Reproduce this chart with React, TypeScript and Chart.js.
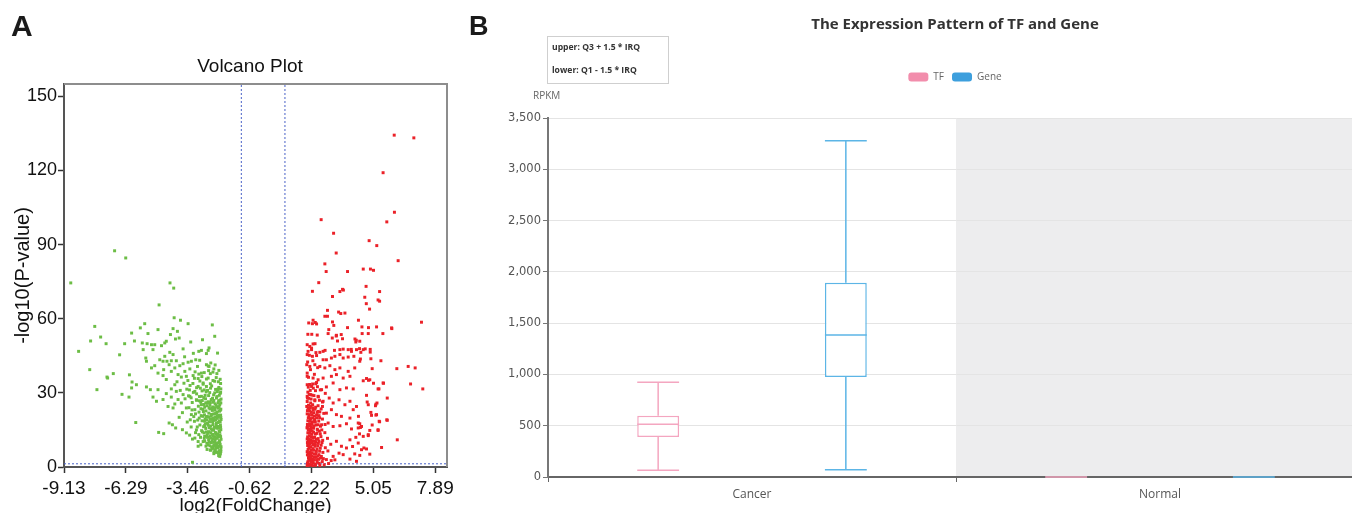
import React, { useEffect, useRef } from 'react';
import { Chart, registerables } from 'chart.js';

Chart.register(...registerables);

// ---------------- Panel A: volcano plot ----------------
const volcanoTitle = 'Volcano Plot';
const fcAxisTitle = 'log2(FoldChange)';
const pAxisTitle = '-log10(P-value)';
const fcTicks = [-9.13, -6.29, -3.46, -0.62, 2.22, 5.05, 7.89];
const pTicks = [0, 30, 60, 90, 120, 150];
const fcRange = [-9.13, 8.43];
const pRange = [0, 155];
const fcThresholds = [-1, 1];
const pThreshold = 1.3;

// down-regulated (green)
const downPoints: [number, number][] = [
  [-8.82, 74.5], [-6.81, 87.5], [-6.30, 84.6], [-4.27, 74.5], [-4.10, 72.4], [-8.46, 46.8], [-7.95, 39.4],
  [-7.72, 56.9], [-7.91, 51.0], [-7.45, 52.6], [-7.20, 49.9], [-7.62, 31.3], [-7.16, 36.4], [-7.13, 36.0],
  [-6.87, 37.8], [-6.47, 29.4], [-6.58, 45.4], [-6.35, 49.9], [-6.13, 37.3], [-6.01, 34.4], [-6.03, 32.0],
  [-5.81, 33.3], [-6.15, 28.3], [-5.84, 18.0], [-6.03, 54.2], [-5.90, 51.0],
  [-4.77, 65.6], [-4.08, 60.4], [-3.79, 59.4], [-3.44, 58.0], [-2.33, 57.5], [-2.22, 52.9], [-5.43, 58.0],
  [-5.63, 56.3], [-5.28, 54.0], [-4.82, 55.6], [-4.13, 56.0], [-3.93, 54.9], [-4.25, 53.6], [-4.02, 51.8],
  [-3.85, 52.2], [-4.44, 50.9], [-4.51, 50.2], [-4.66, 49.1], [-4.97, 49.5], [-5.12, 49.5], [-5.32, 49.9],
  [-5.54, 50.2], [-5.50, 47.5], [-5.05, 47.5], [-3.67, 47.8], [-3.32, 50.6], [-2.78, 51.5], [-2.83, 47.2],
  [-2.52, 47.2], [-2.48, 48.2], [-2.60, 45.9], [-2.09, 46.1], [-5.38, 44.1], [-5.35, 42.8], [-5.12, 40.1],
  [-4.97, 41.0], [-4.74, 43.4], [-4.51, 44.8], [-4.28, 46.4], [-4.13, 45.5], [-4.59, 42.8], [-4.41, 42.8],
  [-4.21, 43.0], [-3.98, 43.0], [-4.31, 41.4], [-4.56, 39.4], [-4.82, 38.0], [-4.59, 37.0], [-4.44, 35.4],
  [-4.21, 38.7], [-4.05, 40.1], [-3.82, 41.0], [-3.67, 41.8], [-3.44, 42.4], [-3.29, 42.8], [-3.09, 43.4],
  [-2.91, 43.2], [-3.01, 40.7], [-2.60, 41.4], [-2.48, 40.7], [-2.26, 39.7], [-3.36, 39.7], [-3.59, 38.7],
  [-3.90, 37.4], [-3.75, 36.4], [-3.52, 36.7], [-3.21, 37.0], [-2.83, 38.0], [-2.52, 36.0], [-2.22, 34.7],
  [-2.06, 31.6], [-5.35, 32.4], [-5.17, 31.3], [-4.82, 31.3], [-5.05, 28.3], [-4.89, 26.6], [-4.59, 27.3],
  [-4.44, 29.7], [-4.21, 31.6], [-4.05, 33.3], [-3.98, 30.6], [-4.21, 28.3], [-4.36, 24.5], [-4.13, 23.9],
  [-3.90, 27.3], [-3.67, 29.3], [-3.75, 25.9], [-3.52, 23.9], [-3.36, 28.6], [-3.13, 30.6], [-2.98, 32.6],
  [-2.75, 34.0], [-2.60, 32.6], [-2.42, 33.7], [-3.29, 21.2], [-3.13, 23.2], [-2.83, 25.2], [-3.06, 27.2],
  [-2.83, 28.6], [-4.16, 17.1], [-4.01, 15.8], [-4.31, 17.8], [-3.70, 15.1], [-4.56, 13.5], [-4.79, 14.0],
  [-3.52, 13.8], [-3.13, 11.7], [-3.24, 11.3], [-2.86, 9.0], [-2.75, 10.3], [-2.52, 9.0], [-2.42, 6.8],
  [-2.26, 5.4], [-1.99, 4.3], [-2.05, 5.6], [-1.94, 6.3], [-2.98, 8.4], [-2.68, 12.4], [-3.24, 1.9],
  [-1.94, 31.6], [-1.97, 29.8], [-2.03, 32.2], [-2.10, 30.5], [-2.18, 31.4], [-2.27, 29.2], [-2.36, 32.8],
  [-2.45, 30.1], [-2.55, 31.0], [-2.66, 29.0], [-2.80, 30.8], [-2.92, 28.5],
  [-1.93, 27.5], [-1.99, 25.2], [-2.04, 26.8], [-2.09, 24.4], [-2.14, 27.9], [-2.20, 25.6], [-2.26, 26.9],
  [-2.31, 24.3], [-2.38, 27.3], [-2.44, 25.0], [-2.51, 26.4], [-2.58, 24.8], [-2.64, 27.6], [-2.72, 25.3],
  [-2.86, 26.2], [-2.97, 24.6], [-3.05, 27.0],
  [-1.94, 23.4], [-1.95, 21.0], [-2.00, 22.6], [-2.05, 20.3], [-2.08, 23.8], [-2.13, 21.7], [-2.18, 20.1],
  [-2.22, 23.0], [-2.28, 21.4], [-2.33, 22.9], [-2.39, 20.6], [-2.44, 23.5], [-2.49, 21.8], [-2.56, 20.4],
  [-2.62, 22.7], [-2.69, 21.1], [-2.76, 23.3], [-2.84, 20.8], [-2.94, 22.2], [-3.10, 21.5],
  [-1.93, 19.2], [-1.96, 17.0], [-2.01, 18.6], [-2.06, 16.4], [-2.10, 19.7], [-2.15, 17.6], [-2.20, 16.2],
  [-2.24, 18.9], [-2.30, 17.2], [-2.35, 19.5], [-2.41, 16.6], [-2.46, 18.3], [-2.52, 16.9], [-2.58, 19.1],
  [-2.65, 17.5], [-2.73, 16.3], [-2.80, 18.7], [-2.90, 17.0], [-3.00, 19.0],
  [-1.94, 15.1], [-1.98, 13.0], [-2.02, 14.6], [-2.07, 12.3], [-2.12, 15.7], [-2.17, 13.5], [-2.22, 12.1],
  [-2.27, 14.9], [-2.32, 13.2], [-2.38, 15.4], [-2.43, 12.6], [-2.50, 14.3], [-2.57, 12.9], [-2.63, 15.6],
  [-2.71, 13.8], [-2.82, 14.7], [-2.95, 13.1],
  [-1.93, 11.2], [-1.97, 9.1], [-2.01, 10.6], [-2.05, 8.4], [-2.10, 11.6], [-2.15, 9.5], [-2.20, 10.9],
  [-2.26, 8.8], [-2.31, 11.3], [-2.37, 9.9], [-2.44, 8.6], [-2.50, 11.0], [-2.58, 9.6], [-2.68, 10.5],
  [-1.94, 7.2], [-1.96, 5.3], [-2.00, 6.6], [-2.04, 4.6], [-2.09, 7.7], [-2.14, 5.9], [-2.19, 7.0],
  [-2.25, 6.2], [-2.32, 7.5], [-2.40, 6.9],
  [-2.05, 34.5], [-2.15, 36.2], [-2.30, 35.0], [-2.42, 37.8], [-2.60, 35.6], [-2.75, 33.5], [-2.90, 34.8],
  [-3.05, 32.1], [-3.20, 30.2], [-3.35, 33.0], [-3.15, 35.9], [-2.50, 39.0], [-2.70, 38.2], [-2.95, 37.6],
  [-3.25, 26.1], [-3.40, 24.0], [-3.15, 18.5], [-3.30, 16.2],
  [-1.95, 30.2], [-1.98, 27.0], [-2.01, 29.0], [-2.07, 31.3], [-2.12, 28.5], [-2.22, 30.0], [-2.32, 27.8],
  [-2.41, 31.9], [-2.50, 28.9], [-2.61, 30.4], [-2.72, 28.1],
  [-1.94, 25.9], [-1.96, 23.0], [-2.02, 24.2], [-2.06, 26.0], [-2.11, 22.3], [-2.16, 25.0], [-2.23, 24.0],
  [-2.29, 26.2], [-2.35, 23.8], [-2.42, 26.1], [-2.48, 24.0], [-2.55, 25.9], [-2.68, 24.2], [-2.79, 26.9],
  [-1.94, 20.0], [-1.97, 18.3], [-2.02, 20.9], [-2.07, 18.0], [-2.12, 20.6], [-2.17, 19.0], [-2.21, 21.6],
  [-2.27, 19.9], [-2.32, 18.4], [-2.37, 21.3], [-2.43, 19.3], [-2.49, 20.2], [-2.55, 17.8], [-2.61, 20.4],
  [-2.69, 18.6], [-2.77, 20.5],
  [-1.95, 16.1], [-1.99, 14.2], [-2.04, 15.8], [-2.09, 13.4], [-2.14, 16.5], [-2.19, 14.0], [-2.24, 16.0],
  [-2.29, 12.8], [-2.34, 15.0], [-2.40, 13.9], [-2.47, 15.9], [-2.54, 13.7], [-2.61, 14.2], [-2.68, 16.8],
  [-1.95, 12.3], [-1.99, 10.2], [-2.03, 12.5], [-2.08, 9.8], [-2.13, 12.9], [-2.18, 11.8], [-2.23, 10.0],
  [-2.29, 12.4], [-2.34, 10.5], [-2.41, 11.7], [-2.47, 10.0], [-2.55, 12.0],
  [-1.93, 8.2], [-1.98, 6.0], [-2.02, 8.4], [-2.07, 6.1], [-2.12, 8.9], [-2.17, 7.9], [-2.22, 9.0],
  [-2.29, 8.2], [-2.36, 8.1],
  [-3.45, 35.0], [-3.38, 31.2], [-3.30, 28.0], [-3.22, 33.8], [-3.12, 38.5], [-3.05, 29.6], [-2.98, 35.8],
  [-2.92, 26.8], [-2.88, 31.9], [-2.81, 36.6], [-2.74, 22.4], [-2.70, 31.2], [-2.66, 19.4], [-2.63, 26.0],
  [-2.85, 23.6], [-2.93, 19.8], [-3.02, 16.2], [-3.10, 13.9], [-3.18, 20.4], [-3.26, 23.1], [-3.34, 19.1],
  [-3.42, 28.8], [-3.50, 31.5], [-3.58, 27.6], [-3.63, 33.9], [-3.70, 22.0], [-3.48, 18.2], [-3.37, 12.9],
  [-2.87, 12.0], [-2.78, 14.2], [-2.70, 11.6], [-2.62, 8.4], [-2.98, 10.3], [-3.06, 15.0], [-2.57, 7.1],
  [-2.52, 40.9], [-2.40, 42.1], [-2.30, 38.4], [-2.20, 41.3], [-2.12, 37.8], [-2.03, 39.1], [-1.97, 35.5],
  [-1.95, 33.8], [-3.80, 31.0], [-3.85, 20.1], [-3.95, 34.5], [-4.05, 25.5], [-3.60, 44.6], [-3.20, 46.0],
  [-2.95, 46.8],
];

// up-regulated (red)
const upPoints: [number, number][] = [
  [6.01, 134.3], [6.91, 133.2], [5.50, 119.1], [6.02, 103.1], [5.67, 99.2], [2.66, 100.1], [3.23, 94.6],
  [4.86, 91.6], [5.21, 89.6], [6.19, 83.5], [3.35, 86.6], [2.83, 82.2], [2.89, 79.1], [3.87, 79.1],
  [4.59, 80.1], [4.92, 80.1], [5.06, 79.6], [2.55, 74.6], [4.72, 73.1], [2.26, 71.1], [3.64, 71.9],
  [3.68, 71.6], [3.52, 71.0], [5.34, 71.0], [3.18, 69.0], [4.66, 68.7], [5.27, 67.6], [5.34, 67.1],
  [7.26, 58.6], [6.97, 40.1], [6.76, 33.6], [7.32, 31.6],
  [4.73, 66.1], [4.88, 63.9], [2.95, 63.4], [3.46, 62.7], [3.56, 62.1], [3.75, 62.3], [2.83, 61.0],
  [2.95, 61.0], [2.29, 59.4], [2.39, 58.5], [2.45, 57.9], [2.26, 58.0], [2.09, 58.3], [3.18, 58.7],
  [3.24, 57.3], [4.37, 59.4], [4.53, 56.7], [3.87, 56.4], [5.20, 56.7], [5.90, 56.0], [5.49, 54.0],
  [4.82, 54.0], [4.54, 54.0], [2.05, 53.7], [2.23, 53.7], [2.48, 53.4], [2.98, 54.0], [3.36, 53.3],
  [3.58, 53.6], [3.17, 52.2], [3.64, 51.9], [4.21, 51.8], [3.41, 51.0], [4.68, 47.8], [4.25, 50.6],
  [4.43, 50.9], [4.91, 47.6],
  [2.02, 49.5], [2.29, 49.8], [2.14, 48.8], [2.38, 49.9], [2.06, 46.8], [2.22, 47.5], [2.60, 46.4],
  [2.75, 46.8], [2.84, 47.2], [3.27, 47.2], [3.52, 47.5], [3.67, 47.7], [3.90, 47.5], [4.05, 46.8],
  [4.28, 47.5], [4.48, 46.4], [4.59, 47.5],
  [2.02, 45.5], [2.26, 44.8], [2.45, 45.1], [2.75, 43.4], [2.90, 43.4], [3.13, 44.1], [3.29, 44.8],
  [3.52, 45.5], [3.67, 44.1], [3.90, 44.5], [4.16, 44.8], [4.43, 42.8], [4.94, 43.8], [5.40, 43.0],
  [2.00, 41.4], [2.14, 40.7], [2.37, 41.4], [2.60, 40.7], [2.83, 40.1], [3.06, 41.0], [3.29, 39.4],
  [3.52, 40.1], [3.90, 38.7], [4.20, 40.1], [5.00, 39.8], [6.13, 39.8], [6.65, 40.7],
  [2.02, 36.7], [2.29, 36.0], [2.52, 35.3], [2.75, 36.0], [3.13, 36.7], [3.36, 37.4], [3.67, 36.0],
  [3.98, 36.7], [4.59, 34.9], [4.89, 35.3], [5.50, 34.0], [4.74, 35.8],
  [2.02, 33.3], [2.22, 32.6], [2.41, 33.7], [2.68, 31.3], [2.90, 32.4], [3.21, 34.0], [3.52, 31.3],
  [3.82, 32.0], [4.13, 31.6], [5.31, 31.6], [4.74, 29.0], [5.69, 27.9], [2.02, 28.6], [2.17, 29.3],
  [2.37, 27.2], [2.52, 28.6], [2.75, 26.6], [3.03, 27.9], [3.21, 25.9], [3.48, 27.2], [3.75, 25.2],
  [3.98, 26.6], [4.28, 24.5], [4.82, 25.2], [5.15, 24.8], [5.22, 25.9], [4.13, 23.2], [2.00, 24.5],
  [2.11, 23.2], [2.29, 23.9], [2.52, 22.5], [2.72, 24.5], [2.90, 21.8], [3.13, 23.2], [3.36, 21.2],
  [3.59, 20.5], [3.98, 19.8], [4.37, 20.5], [4.97, 20.9], [5.20, 21.2], [5.69, 18.9], [5.32, 18.5],
  [4.43, 17.5], [4.51, 16.4], [4.36, 15.8], [4.05, 15.4], [3.82, 17.5], [3.52, 16.7], [3.21, 16.4],
  [2.98, 17.8], [2.68, 17.1], [2.37, 18.5], [2.14, 17.1], [2.02, 15.8],
  [4.59, 12.4], [4.82, 13.1], [4.89, 14.8], [5.27, 14.8], [5.43, 7.9], [6.15, 11.0], [4.51, 7.0],
  [4.74, 7.3], [4.43, 4.7], [4.20, 5.3], [4.10, 8.3], [4.36, 9.7], [3.98, 11.0], [3.82, 7.7],
  [3.67, 5.0], [3.59, 8.4], [3.36, 10.4], [3.48, 5.6], [3.21, 4.3], [3.29, 2.9], [3.98, 3.2], [4.28, 2.3],
  [5.52, 33.9], [5.06, 33.9], [5.27, 31.6], [4.83, 35.1], [4.77, 26.3], [5.17, 25.4], [4.94, 22.1],
  [5.17, 21.0], [5.34, 18.3], [5.67, 19.1], [5.00, 17.0], [5.27, 15.1], [4.82, 12.7], [4.42, 13.4],
  [4.36, 17.8], [4.46, 16.0], [4.25, 12.0], [4.62, 7.7], [4.89, 5.2], [4.91, 46.5], [4.46, 43.7],
  [4.27, 51.3], [4.04, 47.6], [4.42, 47.9], [3.35, 53.0], [3.01, 55.6], [4.83, 56.4], [5.89, 56.3],
  [2.02, 0.6], [2.05, 2.1], [2.08, 3.8], [2.11, 1.2], [2.15, 4.6], [2.18, 2.7], [2.22, 0.9], [2.26, 3.3],
  [2.30, 1.8], [2.35, 4.1], [2.40, 0.7], [2.45, 2.9], [2.51, 4.4], [2.57, 1.5], [2.63, 3.6], [2.71, 2.2],
  [2.80, 0.9], [2.90, 3.0], [3.00, 1.4], [3.12, 2.6],
  [2.02, 6.2], [2.04, 8.7], [2.07, 5.4], [2.10, 7.6], [2.13, 9.5], [2.16, 6.0], [2.20, 8.2], [2.24, 5.7],
  [2.28, 9.1], [2.32, 6.8], [2.37, 8.4], [2.42, 5.2], [2.47, 7.3], [2.53, 9.6], [2.59, 6.4], [2.66, 8.8],
  [2.74, 5.9], [2.85, 7.8], [2.97, 6.5], [3.10, 9.2],
  [2.02, 11.3], [2.05, 13.8], [2.08, 10.4], [2.12, 12.6], [2.16, 14.7], [2.19, 11.0], [2.23, 13.2],
  [2.27, 10.6], [2.31, 14.1], [2.36, 12.0], [2.41, 10.2], [2.46, 13.6], [2.52, 11.5], [2.58, 14.5],
  [2.65, 12.3], [2.73, 10.8], [2.83, 13.9], [2.95, 11.6],
  [2.02, 16.0], [2.05, 18.7], [2.09, 15.4], [2.13, 17.5], [2.17, 19.6], [2.21, 16.3], [2.26, 18.3],
  [2.31, 15.7], [2.36, 19.2], [2.42, 17.0], [2.48, 15.3], [2.55, 18.6], [2.63, 16.5], [2.72, 19.4], [2.84, 17.2],
  [2.02, 21.5], [2.06, 23.9], [2.10, 20.4], [2.14, 22.6], [2.19, 24.6], [2.24, 21.0], [2.29, 23.2],
  [2.35, 20.6], [2.41, 24.2], [2.48, 22.1], [2.56, 20.8], [2.66, 23.5], [2.78, 21.7],
  [2.02, 26.5], [2.05, 30.3], [2.09, 27.8], [2.13, 33.4], [2.18, 25.9], [2.24, 29.1], [2.30, 31.9],
  [2.37, 26.8], [2.45, 34.2], [2.53, 28.4], [2.62, 31.2], [2.72, 26.3], [2.85, 29.8],
  [2.02, 38.0], [2.04, 42.5], [2.08, 36.3], [2.12, 45.2], [2.17, 39.4], [2.22, 48.1], [2.28, 43.0],
  [2.35, 37.5], [2.42, 46.3], [2.50, 40.2],
  [2.03, 1.5], [2.06, 0.4], [2.09, 2.8], [2.12, 4.0], [2.14, 0.8], [2.17, 3.5], [2.20, 1.9], [2.23, 4.4],
  [2.25, 2.4], [2.28, 0.5], [2.33, 3.0], [2.38, 1.2], [2.43, 3.9], [2.48, 1.9], [2.54, 3.1], [2.60, 0.6],
  [2.67, 4.3], [2.76, 3.4],
  [2.03, 4.9], [2.06, 7.1], [2.09, 9.0], [2.12, 5.8], [2.15, 8.1], [2.18, 4.9], [2.21, 6.9], [2.25, 9.8],
  [2.29, 7.4], [2.34, 5.3], [2.39, 9.4], [2.44, 6.3], [2.50, 8.6], [2.56, 5.0], [2.62, 7.6], [2.70, 9.9],
  [2.03, 9.9], [2.04, 12.2], [2.07, 14.9], [2.10, 11.4], [2.14, 13.7], [2.18, 10.0], [2.21, 12.1],
  [2.25, 14.5], [2.29, 11.9], [2.34, 10.5], [2.39, 13.3], [2.44, 11.2], [2.50, 14.9], [2.56, 10.4],
  [2.62, 13.4], [2.69, 15.0],
  [2.03, 17.2], [2.07, 19.9], [2.11, 16.6], [2.15, 18.6], [2.19, 15.2], [2.24, 17.3], [2.28, 19.8],
  [2.33, 16.6], [2.39, 18.2], [2.45, 19.9], [2.52, 17.1], [2.59, 19.9],
  [2.03, 22.8], [2.08, 25.0], [2.12, 21.2], [2.16, 24.0], [2.21, 22.1], [2.27, 25.2], [2.32, 22.0],
  [2.38, 23.4], [2.45, 21.0], [2.52, 24.8], [2.60, 22.3],
  [2.03, 27.9], [2.07, 32.3], [2.11, 29.4], [2.16, 31.0], [2.20, 27.5], [2.27, 33.6], [2.33, 28.9],
  [2.40, 30.9], [2.49, 32.5], [2.58, 27.0],
];

// ---------------- Panel B: box plot ----------------
const boxTitle = 'The Expression Pattern of TF and Gene';
const categories = ['Cancer', 'Normal'];
const seriesNames = ['TF', 'Gene'];
const tfMin = [65, 0];
const tfQ1 = [390, 0];
const tfMedian = [514, 0];
const tfQ3 = [598, 0];
const tfMax = [923, 0];
const geneMin = [71, 0];
const geneQ1 = [975, 0];
const geneMedian = [1384, 0];
const geneQ3 = [1894, 0];
const geneMax = [3279, 0];
const rpkmTicks = { min: 0, max: 3500, step: 500 };

const boxStats = [
  { min: tfMin, q1: tfQ1, median: tfMedian, q3: tfQ3, max: tfMax },
  { min: geneMin, q1: geneQ1, median: geneMedian, q3: geneQ3, max: geneMax },
];
const lineColors = ['#f4a6c0', '#5cb5e6'];
const legendColors = ['#f28dac', '#3d9fdd'];

const ARIAL = '"Liberation Sans", Arial, sans-serif';
const UI = '"Open Sans", "Noto Sans", sans-serif';
const WIDE = '"DejaVu Sans", sans-serif';

const frameA = {
  id: 'frameA',
  afterDatasetsDraw(chart: any) {
    const { ctx, chartArea: a } = chart;
    ctx.save();
    ctx.strokeStyle = '#8d8d8d';
    ctx.lineWidth = 2;
    ctx.beginPath();
    ctx.moveTo(a.left, a.top);
    ctx.lineTo(a.right, a.top);
    ctx.lineTo(a.right, a.bottom);
    ctx.stroke();
    ctx.restore();
  },
};

const shadeB = {
  id: 'shadeB',
  beforeDraw(chart: any) {
    const { ctx, chartArea: a, scales } = chart;
    const x = scales.x;
    const half = (x.getPixelForValue(1) - x.getPixelForValue(0)) / 2;
    const start = x.getPixelForValue(1) - half;
    ctx.save();
    ctx.fillStyle = '#ededee';
    ctx.fillRect(start, a.top, a.right - start, a.bottom - a.top);
    ctx.restore();
  },
};

const whiskersB = {
  id: 'whiskersB',
  afterDatasetsDraw(chart: any) {
    const { ctx, scales } = chart;
    const y = scales.y;
    chart.data.datasets.forEach((ds: any, di: number) => {
      const meta = chart.getDatasetMeta(di);
      const st = boxStats[di];
      meta.data.forEach((bar: any, i: number) => {
        const { x, width } = bar.getProps(['x', 'width'], true);
        const l = x - width / 2;
        const r = x + width / 2;
        const pMin = y.getPixelForValue(st.min[i]);
        const pQ1 = y.getPixelForValue(st.q1[i]);
        const pMed = y.getPixelForValue(st.median[i]);
        const pQ3 = y.getPixelForValue(st.q3[i]);
        const pMax = y.getPixelForValue(st.max[i]);
        ctx.save();
        ctx.strokeStyle = lineColors[di];
        ctx.lineWidth = 1.5;
        ctx.beginPath();
        ctx.moveTo(x, pQ3); ctx.lineTo(x, pMax);
        ctx.moveTo(x, pQ1); ctx.lineTo(x, pMin);
        ctx.moveTo(l, pMax); ctx.lineTo(r, pMax);
        ctx.moveTo(l, pMin); ctx.lineTo(r, pMin);
        ctx.moveTo(l, pMed); ctx.lineTo(r, pMed);
        ctx.stroke();
        ctx.restore();
      });
    });
  },
};

function makeVolcano(canvas: HTMLCanvasElement) {
  const toXY = (arr: [number, number][]) => arr.map(([x, y]) => ({ x, y }));
  const dash = (data: { x: number; y: number }[]) => ({
    data,
    showLine: true,
    borderColor: '#4a62c8',
    borderWidth: 1,
    borderDash: [2, 2],
    pointRadius: 0,
    pointHoverRadius: 0,
    fill: false,
  });
  return new Chart(canvas, {
    type: 'scatter',
    data: {
      datasets: [
        { label: 'down', data: toXY(downPoints), backgroundColor: '#6cbd45', pointStyle: 'rect', pointRadius: 2.1, pointBorderWidth: 0, pointHoverRadius: 2.1 } as any,
        { label: 'up', data: toXY(upPoints), backgroundColor: '#eb2128', pointStyle: 'rect', pointRadius: 2.1, pointBorderWidth: 0, pointHoverRadius: 2.1 } as any,
        ...fcThresholds.map((v) => dash([{ x: v, y: pRange[0] }, { x: v, y: pRange[1] }])),
        dash([{ x: fcRange[0], y: pThreshold }, { x: fcRange[1], y: pThreshold }]),
      ],
    },
    options: {
      animation: false,
      responsive: false,
      events: [],
      layout: { padding: 0 },
      plugins: {
        legend: { display: false },
        tooltip: { enabled: false },
        title: {
          display: true,
          text: volcanoTitle,
          color: '#111',
          font: { family: ARIAL, size: 19, weight: 'normal', lineHeight: 1.2 },
          padding: { top: 55.2, bottom: 6 },
        },
      },
      scales: {
        x: {
          type: 'linear',
          min: fcRange[0],
          max: fcRange[1],
          afterBuildTicks: (s: any) => { s.ticks = fcTicks.map((v) => ({ value: v })); },
          afterFit: (s: any) => { s.height = 46; },
          ticks: { color: '#111', font: { family: ARIAL, size: 19 }, padding: 4, maxRotation: 0, autoSkip: false, callback: (v: any) => String(v) },
          grid: { drawOnChartArea: false, drawTicks: true, tickLength: 6, tickColor: '#333', tickWidth: 1.5 },
          border: { display: true, color: '#555', width: 2 },
          title: { display: true, text: fcAxisTitle, color: '#111', font: { family: ARIAL, size: 19, lineHeight: 0.8 }, padding: { top: 0, bottom: 0 } },
        },
        y: {
          type: 'linear',
          min: pRange[0],
          max: pRange[1],
          afterBuildTicks: (s: any) => { s.ticks = pTicks.map((v) => ({ value: v })); },
          afterFit: (s: any) => { s.width = 64; },
          ticks: { color: '#111', font: { family: ARIAL, size: 18 }, padding: 1, callback: (v: any) => String(v) },
          grid: { drawOnChartArea: false, drawTicks: true, tickLength: 6, tickColor: '#333', tickWidth: 1.5 },
          border: { display: true, color: '#555', width: 2 },
          title: { display: true, text: pAxisTitle, color: '#111', font: { family: ARIAL, size: 20, lineHeight: 1 }, padding: { top: 13, bottom: 0 } },
        },
        yR: {
          type: 'linear',
          position: 'right',
          display: true,
          grid: { display: false },
          border: { display: false },
          ticks: { display: false },
          afterFit: (s: any) => { s.width = 53; },
        },
      },
    } as any,
    plugins: [frameA],
  });
}

function makeBox(canvas: HTMLCanvasElement) {
  const series = [
    { q1: tfQ1, q3: tfQ3 },
    { q1: geneQ1, q3: geneQ3 },
  ];
  return new Chart(canvas, {
    type: 'bar',
    data: {
      labels: categories,
      datasets: series.map((s, di) => ({
        label: seriesNames[di],
        data: categories.map((_, i) => [s.q1[i], s.q3[i]]),
        backgroundColor: '#ffffff',
        borderColor: lineColors[di],
        borderWidth: 1.5,
        borderSkipped: false,
        categoryPercentage: 0.92,
        barPercentage: 0.223,
        xAxisID: 'x',
        yAxisID: 'y',
      })) as any,
    },
    options: {
      animation: false,
      responsive: false,
      events: [],
      layout: { padding: 0 },
      plugins: {
        tooltip: { enabled: false },
        title: {
          display: true,
          text: boxTitle,
          color: '#333',
          font: { family: UI, size: 15, weight: 'bold', lineHeight: 1.2 },
          padding: { top: 16, bottom: 30 },
        },
        legend: {
          display: true,
          position: 'top',
          labels: {
            boxWidth: 20,
            boxHeight: 9,
            padding: 8,
            color: '#666',
            font: { family: UI, size: 10 },
            useBorderRadius: true,
            borderRadius: 3,
            generateLabels: (chart: any) =>
              chart.data.datasets.map((ds: any, i: number) => ({
                text: ds.label,
                fillStyle: legendColors[i],
                strokeStyle: legendColors[i],
                lineWidth: 0,
                hidden: false,
                datasetIndex: i,
                fontColor: '#666',
                borderRadius: 3,
              })),
          },
        },
      },
      scales: {
        x: {
          type: 'category',
          afterFit: (s: any) => { s.height = 36; },
          ticks: { color: '#555', font: { family: UI, size: 12 }, padding: 5 },
          grid: { offset: true, drawOnChartArea: false, drawTicks: true, tickLength: 5, tickColor: '#666' },
          border: { display: true, color: '#666', width: 2 },
        },
        y: {
          type: 'linear',
          min: rpkmTicks.min,
          max: rpkmTicks.max,
          afterFit: (s: any) => { s.width = 68; },
          ticks: { stepSize: rpkmTicks.step, color: '#555', font: { family: WIDE, size: 11.5 }, padding: 2 },
          grid: { color: '#e4e4e4', tickColor: '#777', tickLength: 5 },
          border: { display: true, color: '#777', width: 2 },
        },
        xT: {
          type: 'linear',
          position: 'top',
          display: true,
          grid: { display: false },
          border: { display: false },
          ticks: { display: false },
          afterFit: (s: any) => { s.height = 26; },
        },
        yR: {
          type: 'linear',
          position: 'right',
          display: true,
          grid: { display: false },
          border: { display: false },
          ticks: { display: false },
          afterFit: (s: any) => { s.width = 66; },
        },
      },
    } as any,
    plugins: [shadeB, whiskersB],
  });
}

export default function App() {
  const aRef = useRef<HTMLCanvasElement>(null);
  const bRef = useRef<HTMLCanvasElement>(null);

  useEffect(() => {
    const a = makeVolcano(aRef.current!);
    const b = makeBox(bRef.current!);
    return () => {
      a.destroy();
      b.destroy();
    };
  }, []);

  return (
    <div style={{ position: 'fixed', left: 0, top: 0, width: 1352, height: 513, overflow: 'hidden', background: '#fff' }}>
      <canvas ref={aRef} width={500} height={513} style={{ position: 'absolute', left: 0, top: 0, width: 500, height: 513 }} />
      <canvas ref={bRef} width={950} height={513} style={{ position: 'absolute', left: 480, top: 0, width: 950, height: 513 }} />
      <div style={{ position: 'absolute', left: 11, top: 11, font: `bold 30px ${ARIAL}`, lineHeight: '30px', color: '#1a1a1a' }}>A</div>
      <div style={{ position: 'absolute', left: 469, top: 13, font: `bold 27px ${ARIAL}`, lineHeight: '27px', color: '#1a1a1a' }}>B</div>
      <div
        style={{
          position: 'absolute', left: 547, top: 36, width: 122, height: 48, boxSizing: 'border-box',
          border: '1px solid #cfcfcf', background: '#fff', color: '#333', font: `bold 8.6px ${UI}`,
        }}
      >
        <div style={{ position: 'absolute', left: 4, top: 4, lineHeight: '12px', whiteSpace: 'nowrap' }}>upper: Q3 + 1.5 * IRQ</div>
        <div style={{ position: 'absolute', left: 4, top: 27, lineHeight: '12px', whiteSpace: 'nowrap' }}>lower: Q1 - 1.5 * IRQ</div>
      </div>
      <div style={{ position: 'absolute', left: 533, top: 89, font: `10px ${UI}`, lineHeight: '12px', color: '#666' }}>RPKM</div>
    </div>
  );
}
